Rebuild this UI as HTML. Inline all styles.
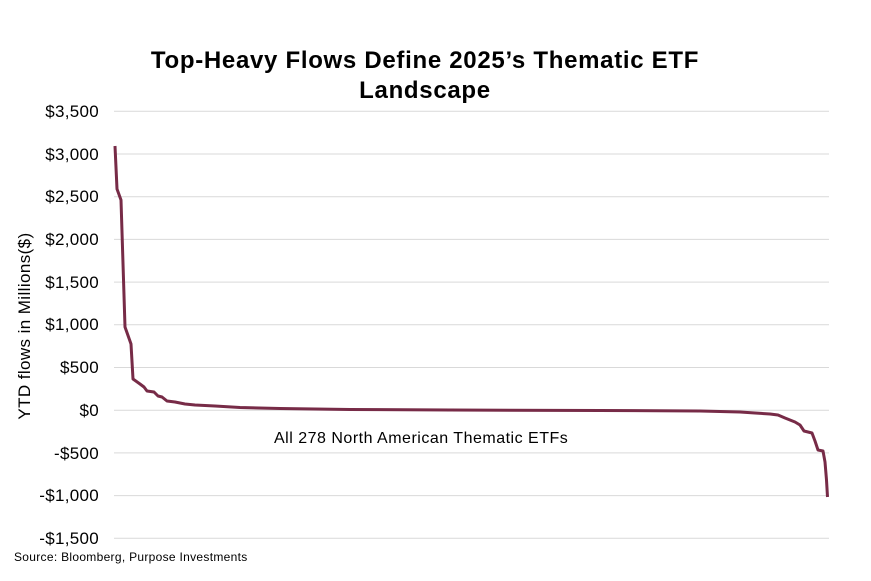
<!DOCTYPE html>
<html><head><style>
body{margin:0;background:#fff;}
svg text{font-family:"Liberation Sans",sans-serif;}
</style></head><body>
<svg width="871" height="576" viewBox="0 0 871 576" xmlns="http://www.w3.org/2000/svg">
<text x="425" y="68" text-anchor="middle" font-size="24" font-weight="bold" letter-spacing="0.7" fill="#000">Top-Heavy Flows Define 2025’s Thematic ETF</text>
<text x="425" y="98" text-anchor="middle" font-size="24" font-weight="bold" letter-spacing="0.7" fill="#000">Landscape</text>
<g stroke="#d9d9d9" stroke-width="1">
<line x1="114" x2="829" y1="111.3" y2="111.3"/>
<line x1="114" x2="829" y1="154" y2="154"/>
<line x1="114" x2="829" y1="196.7" y2="196.7"/>
<line x1="114" x2="829" y1="239.4" y2="239.4"/>
<line x1="114" x2="829" y1="282.1" y2="282.1"/>
<line x1="114" x2="829" y1="324.8" y2="324.8"/>
<line x1="114" x2="829" y1="367.5" y2="367.5"/>
<line x1="114" x2="829" y1="410.2" y2="410.2"/>
<line x1="114" x2="829" y1="452.9" y2="452.9"/>
<line x1="114" x2="829" y1="495.6" y2="495.6"/>
<line x1="114" x2="829" y1="538.3" y2="538.3"/>
</g>
<g font-size="17" fill="#000" text-anchor="end" letter-spacing="0.3">
<text x="99" y="117">$3,500</text>
<text x="99" y="160">$3,000</text>
<text x="99" y="202">$2,500</text>
<text x="99" y="245">$2,000</text>
<text x="99" y="288">$1,500</text>
<text x="99" y="330">$1,000</text>
<text x="99" y="373">$500</text>
<text x="99" y="416">$0</text>
<text x="99" y="459">-$500</text>
<text x="99" y="501">-$1,000</text>
<text x="99" y="544">-$1,500</text>
</g>
<text transform="translate(30,326) rotate(-90)" text-anchor="middle" font-size="17" letter-spacing="0.4">YTD flows in Millions($)</text>
<text x="274" y="443" font-size="16" letter-spacing="0.5">All 278 North American Thematic ETFs</text>
<text x="14" y="561" font-size="12" letter-spacing="0.3">Source: Bloomberg, Purpose Investments</text>
<polyline fill="none" stroke="#772b47" stroke-width="3" stroke-linejoin="round" points="115,146 117,189 121,200 125,327 131,344 133,379 140,384 144,387 147,391 154,392 158,396 162,397 167,401 175,402 185,404 195,405 215,406 240,407.5 280,408.5 350,409.5 450,410 600,410.5 700,411 740,412 755,413 770,414 778,415 785,418 795,422 800,425 804,431 812,433 815,441 818,450 823,451 825,462 826.5,480 827.5,497"/>
</svg>
</body></html>
